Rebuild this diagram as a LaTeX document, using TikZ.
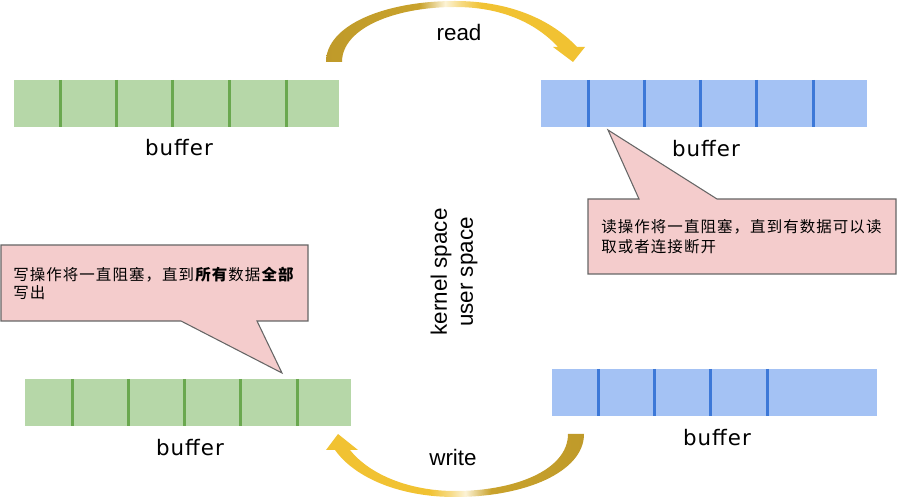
\documentclass[tikz,border=0pt]{standalone}
\usepackage{fontspec}
\setmainfont{Liberation Sans}
\newfontfamily\cjk[LetterSpace=7]{Noto Sans CJK SC}
\newfontfamily\buffont[LetterSpace=5]{DejaVu Sans}
\definecolor{gfill}{HTML}{B6D7A8}
\definecolor{gline}{HTML}{6AA84F}
\definecolor{bfill}{HTML}{A4C2F4}
\definecolor{bline}{HTML}{3C78D8}
\definecolor{pinkfill}{HTML}{F4CCCC}
\definecolor{pinkline}{HTML}{666666}
\definecolor{golddark}{HTML}{BF9A2A}
\definecolor{goldbright}{HTML}{F1C232}
\definecolor{goldlight}{HTML}{FCF3D6}
\colorlet{goldmid}{golddark!80!goldbright}
\colorlet{goldmid2}{goldlight!50!goldbright}
\pgfdeclarehorizontalshading{goldLR}{100bp}{color(0bp)=(golddark); color(25bp)=(golddark); color(43bp)=(goldmid); color(48bp)=(goldlight); color(51bp)=(goldmid2); color(55bp)=(goldbright); color(75bp)=(goldbright); color(100bp)=(goldbright)}
\pgfdeclarehorizontalshading{goldRL}{100bp}{color(0bp)=(goldbright); color(25bp)=(goldbright); color(45bp)=(goldbright); color(49bp)=(goldmid2); color(52bp)=(goldlight); color(57bp)=(goldmid); color(75bp)=(golddark); color(100bp)=(golddark)}
\begin{document}
\begin{tikzpicture}[x=0.75pt,y=-0.75pt,
  gbuf/.style={fill=gfill},
  bbuf/.style={fill=bfill},
  gdiv/.style={draw=gline,line width=2.25pt},
  bdiv/.style={draw=bline,line width=2.25pt},
  buflabel/.style={font=\buffont\fontsize{16}{19}\selectfont,inner sep=0pt},
  callout/.style={draw=pinkline,fill=pinkfill,line width=0.8pt,line join=miter},
  cjktext/.style={font=\cjk\fontsize{11.6}{#1}\selectfont,align=left,inner sep=0pt,anchor=west},
  bigtext/.style={font=\fontsize{16.8}{19.5}\selectfont,inner sep=0pt},
  goldarrow/.style={shading=#1}
]
\useasboundingbox (0,0) rectangle (907,498);

% top-left green buffer
\path[gbuf] (14,80) rectangle (339,127);
\foreach \x in {60,116,172,229,286} \draw[gdiv] (\x,80) -- (\x,127);
\node[buflabel] (lab1) at (179,148) {buffer};

% top-right blue buffer
\path[bbuf] (541,80) rectangle (867,127);
\foreach \x in {588,644,700,756,813} \draw[bdiv] (\x,80) -- (\x,127);
\node[buflabel] (lab2) at (706,149) {buffer};

% bottom-left green buffer
\path[gbuf] (25,379) rectangle (351,426);
\foreach \x in {72,128,184,240,297} \draw[gdiv] (\x,379) -- (\x,426);
\node[buflabel] (lab3) at (190,448) {buffer};

% bottom-right blue buffer
\path[bbuf] (552,369) rectangle (877,416);
\foreach \x in {598,654,710,767} \draw[bdiv] (\x,369) -- (\x,416);
\node[buflabel] (lab4) at (717,438) {buffer};

% callouts
\draw[callout] (588,199) -- (639,199) -- (608,130) -- (717,199) -- (896,199) -- (896,274) -- (588,274) -- cycle;
\node[cjktext=15pt] (rtext) at (601,237) {读操作将一直阻塞，直到有数据可以读\\取或者连接断开};

\draw[callout] (1,245) -- (308,245) -- (308,321) -- (257,321) -- (282,373) -- (181,321) -- (1,321) -- cycle;
\node[cjktext=13.5pt] (ltext) at (13,283) {写操作将一直阻塞，直到\textbf{所有}数据\textbf{全部}\\写出};

% kernel / user space
\node[bigtext,rotate=90,align=center] (ks) at (454,272) {kernel space\\user space};

% read arrow
\shade[goldarrow=goldLR] (326,62) .. controls (326,25) and (385,1) .. (455,1)
  .. controls (510,1) and (552,20) .. (577,47) -- (585,47) -- (573,62) -- (553,47) -- (558,47)
  .. controls (535,22) and (500,7) .. (455,7)
  .. controls (395,7) and (342,28) .. (342,62) -- cycle;
\node[bigtext] (read) at (459,32) {read};

% write arrow
\shade[goldarrow=goldRL] (584,434) .. controls (584,472) and (525,497) .. (455,497)
  .. controls (400,497) and (355,478) .. (335,450) -- (326,450) -- (338,434) -- (358,450) -- (350,450)
  .. controls (370,475) and (410,491) .. (455,491)
  .. controls (515,491) and (568,470) .. (568,434) -- cycle;
\node[bigtext] (write) at (453,457) {write};
\end{tikzpicture}
\end{document}
